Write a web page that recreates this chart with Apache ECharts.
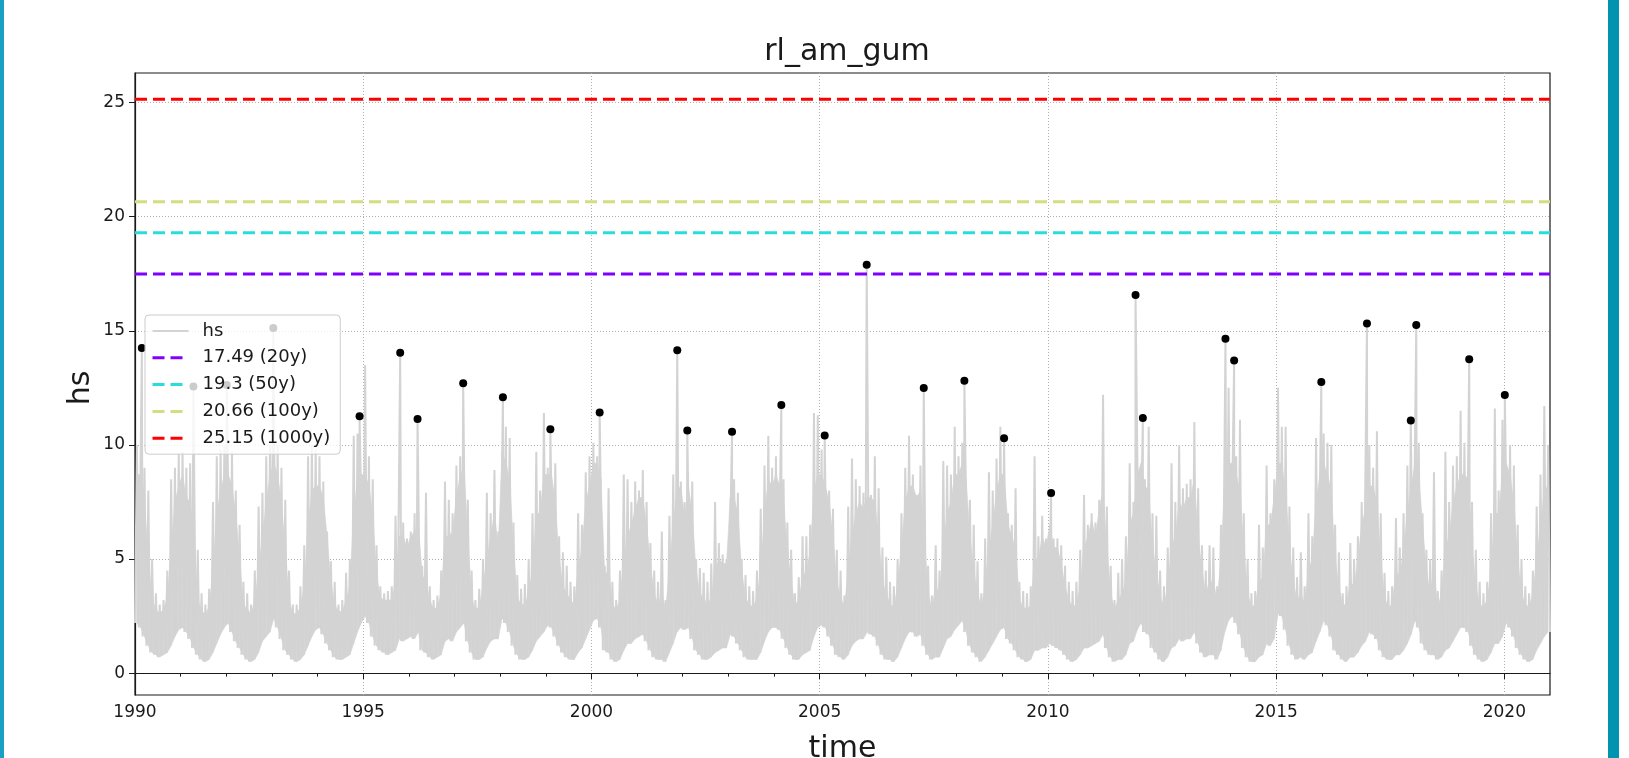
<!DOCTYPE html>
<html>
<head>
<meta charset="utf-8">
<title>rl_am_gum</title>
<script src="https://cdn.jsdelivr.net/npm/echarts@6.0.0/dist/echarts.min.js"></script>
<style>
  html, body { margin: 0; padding: 0; background: #fff; }
  #chart { width: 1629px; height: 758px; }
</style>
</head>
<body>
<div id="chart"></div>
<script>
// years of the hs record, one row per year below (Jan..Dec)
const years = [];
for (let y = 1990; y <= 2020; y++) years.push(y);

// monthly highest spike of hs
const hsMax = [
  [10.0, 14.25, 9.0, 8.0, 5.0, 3.5, 3.0, 3.2, 4.5, 8.5, 9.0, 9.6],
  [9.7, 9.0, 9.2, 12.56, 5.4, 3.5, 3.0, 3.7, 7.5, 9.5, 9.8, 10.0],
  [12.63, 9.7, 8.0, 6.5, 4.0, 3.5, 3.0, 4.5, 7.3, 7.9, 9.5, 10.0],
  [15.12, 10.0, 9.0, 7.6, 4.5, 3.0, 3.0, 3.8, 5.6, 9.5, 10.0, 9.8],
  [9.5, 8.4, 6.2, 4.9, 4.0, 3.0, 3.2, 4.4, 5.0, 10.4, 10.5, 11.26],
  [13.5, 9.5, 8.5, 5.6, 3.8, 3.5, 3.6, 3.8, 6.9, 14.04, 6.6, 5.9],
  [6.2, 7.0, 11.14, 4.7, 7.9, 3.8, 3.2, 3.4, 4.5, 8.4, 7.6, 7.0],
  [9.1, 9.5, 12.70, 7.6, 4.5, 3.2, 3.7, 5.0, 7.9, 7.0, 8.9, 6.2],
  [12.09, 10.8, 10.3, 6.6, 4.3, 3.7, 3.9, 5.0, 7.0, 9.7, 8.0, 11.4],
  [9.0, 10.69, 9.2, 6.0, 5.3, 4.7, 4.0, 3.8, 7.0, 6.5, 8.8, 9.5],
  [10.1, 9.5, 11.42, 4.7, 8.1, 4.0, 3.2, 4.5, 8.7, 8.5, 7.5, 8.4],
  [8.0, 8.9, 7.5, 5.7, 4.5, 4.0, 6.2, 3.2, 6.9, 8.7, 14.15, 8.4],
  [7.5, 10.63, 8.4, 5.0, 4.6, 4.4, 4.0, 4.8, 7.5, 5.7, 5.2, 5.0],
  [10.58, 8.5, 7.9, 5.0, 4.3, 3.8, 3.6, 4.5, 7.2, 9.1, 10.4, 9.0],
  [9.5, 11.75, 8.5, 6.6, 5.4, 3.5, 4.2, 6.0, 6.0, 6.5, 11.4, 11.3],
  [9.8, 10.41, 8.0, 7.2, 5.4, 4.5, 3.4, 7.3, 9.4, 8.5, 8.2, 7.9],
  [17.9, 7.8, 9.5, 8.1, 5.5, 5.1, 4.0, 3.8, 5.0, 7.0, 9.0, 10.4],
  [8.7, 7.8, 9.1, 12.49, 4.7, 3.4, 5.6, 4.5, 9.3, 9.1, 8.7, 10.8],
  [9.5, 10.1, 12.81, 7.6, 6.5, 4.9, 3.5, 5.9, 8.8, 8.0, 9.4, 10.8],
  [10.29, 7.0, 6.5, 8.1, 4.0, 3.6, 3.5, 3.8, 9.5, 6.0, 6.9, 5.9],
  [7.89, 5.9, 5.9, 5.6, 4.7, 4.0, 3.6, 4.0, 5.4, 7.8, 6.5, 7.0],
  [6.6, 7.6, 12.2, 7.3, 4.7, 3.2, 4.4, 5.0, 6.0, 9.2, 7.5, 16.57],
  [11.18, 8.5, 10.8, 7.0, 6.9, 4.5, 3.8, 5.5, 9.2, 7.5, 10.0, 8.1],
  [8.3, 8.5, 11.0, 8.1, 5.6, 4.5, 5.6, 5.5, 3.8, 6.5, 14.65, 12.5],
  [13.70, 9.5, 11.1, 7.0, 5.0, 3.5, 3.6, 6.5, 5.5, 9.1, 7.0, 8.5],
  [12.5, 10.8, 10.8, 7.3, 5.5, 4.2, 5.3, 3.8, 7.0, 6.0, 10.3, 12.76],
  [10.5, 10.1, 10.0, 6.5, 5.3, 3.5, 3.8, 5.7, 5.0, 6.0, 7.5, 15.32],
  [10.0, 9.0, 10.6, 7.0, 4.4, 3.6, 3.8, 6.8, 5.5, 7.0, 9.1, 11.07],
  [15.26, 10.1, 7.0, 5.4, 5.0, 8.8, 3.6, 4.5, 9.7, 7.5, 9.1, 9.5],
  [11.5, 10.1, 13.76, 7.5, 5.4, 4.0, 3.5, 4.0, 7.0, 11.6, 8.0, 11.1],
  [12.19, 10.0, 9.1, 6.5, 5.0, 3.8, 3.5, 4.5, 7.3, 8.7, 11.7, 10.0]
];

// monthly top of the dense part of hs
const hsTyp = [
  [8.7, 8.7, 7.5, 5.0, 3.2, 2.8, 2.6, 2.8, 3.3, 5.5, 7.5, 8.2],
  [8.7, 7.7, 7.5, 6.0, 3.2, 2.7, 2.6, 2.9, 4.5, 7.0, 8.0, 8.7],
  [8.7, 8.2, 7.0, 5.0, 3.0, 2.8, 2.6, 3.2, 4.5, 6.0, 7.5, 8.7],
  [9.2, 8.7, 7.5, 5.5, 3.2, 2.6, 2.6, 2.9, 3.8, 6.5, 8.0, 8.2],
  [8.2, 7.7, 6.0, 4.0, 3.0, 2.7, 2.7, 3.2, 3.8, 7.0, 8.5, 8.7],
  [8.7, 8.2, 7.0, 4.3, 3.3, 3.2, 3.2, 3.2, 4.0, 6.0, 6.0, 5.5],
  [6.0, 6.2, 6.5, 4.3, 4.0, 3.2, 2.8, 2.9, 3.5, 6.0, 6.0, 6.2],
  [7.7, 8.7, 9.0, 6.0, 3.3, 2.8, 2.9, 3.8, 5.0, 6.0, 7.0, 5.5],
  [9.7, 9.2, 8.5, 5.5, 3.3, 3.0, 3.0, 3.5, 4.5, 7.0, 7.0, 8.7],
  [8.7, 8.7, 7.5, 5.0, 3.8, 3.5, 3.2, 3.0, 4.5, 5.5, 7.5, 8.2],
  [9.2, 9.2, 8.5, 4.3, 4.5, 3.0, 2.8, 3.2, 5.0, 6.0, 6.5, 7.2],
  [7.7, 7.7, 6.5, 4.8, 3.5, 3.0, 3.5, 2.8, 4.5, 6.5, 8.0, 8.2],
  [6.8, 8.2, 7.0, 4.5, 3.5, 3.3, 3.0, 3.3, 4.5, 5.0, 4.8, 4.8],
  [7.7, 7.7, 7.0, 4.5, 3.3, 3.0, 2.9, 3.3, 4.5, 7.0, 8.5, 8.2],
  [8.7, 8.2, 7.5, 5.5, 4.0, 3.0, 3.2, 4.2, 4.5, 5.3, 8.0, 8.7],
  [8.7, 8.2, 7.5, 6.0, 4.0, 3.3, 2.9, 4.5, 6.0, 7.0, 7.5, 7.2],
  [7.7, 7.7, 7.5, 6.0, 4.0, 3.5, 3.0, 2.9, 3.8, 5.5, 7.5, 8.2],
  [8.2, 7.7, 8.0, 6.0, 3.5, 2.8, 3.8, 3.5, 5.5, 7.0, 7.5, 8.7],
  [8.7, 9.2, 8.5, 6.0, 4.5, 3.5, 2.9, 3.8, 5.5, 6.5, 8.0, 8.7],
  [8.7, 6.5, 6.0, 5.5, 3.2, 2.9, 2.8, 3.0, 5.0, 5.0, 6.0, 5.5],
  [6.5, 5.5, 5.5, 4.8, 3.8, 3.2, 2.9, 3.0, 3.8, 5.5, 6.0, 6.7],
  [6.0, 7.2, 8.0, 5.5, 3.5, 2.8, 3.2, 3.5, 4.0, 6.5, 7.0, 8.7],
  [9.2, 8.2, 8.0, 5.5, 4.5, 3.3, 3.0, 3.8, 5.5, 6.0, 7.5, 7.2],
  [7.7, 7.7, 8.5, 6.0, 4.5, 3.5, 4.0, 4.0, 3.2, 5.0, 8.5, 9.2],
  [9.2, 8.7, 8.0, 5.5, 3.5, 2.9, 3.0, 4.0, 4.2, 6.5, 6.5, 7.7],
  [9.2, 9.2, 8.0, 5.5, 4.0, 3.2, 3.5, 3.0, 4.5, 5.0, 7.5, 8.7],
  [9.2, 8.7, 8.0, 5.0, 3.8, 3.0, 3.0, 4.0, 3.8, 5.0, 6.5, 7.2],
  [8.2, 8.2, 7.5, 5.0, 3.3, 2.9, 3.0, 4.5, 4.2, 5.5, 7.0, 8.2],
  [9.2, 8.7, 6.5, 4.5, 3.5, 4.5, 2.9, 3.5, 5.5, 6.0, 7.5, 8.2],
  [8.7, 8.7, 8.5, 5.5, 3.8, 3.0, 2.9, 3.2, 4.5, 7.0, 7.0, 8.7],
  [9.2, 8.7, 7.5, 5.0, 3.5, 3.0, 2.9, 3.5, 5.0, 6.5, 8.0, 8.2]
];

// monthly lowest hs
const hsMin = [
  [2.2, 2.0, 1.6, 1.2, 0.9, 0.8, 0.7, 0.8, 0.9, 1.2, 1.6, 1.9],
  [2.0, 1.8, 1.5, 1.1, 0.8, 0.6, 0.5, 0.6, 0.9, 1.3, 1.7, 2.0],
  [2.2, 1.8, 1.4, 1.1, 0.8, 0.6, 0.5, 0.6, 0.9, 1.4, 1.6, 1.8],
  [2.4, 2.0, 1.5, 1.0, 0.8, 0.6, 0.5, 0.6, 0.8, 1.2, 1.6, 1.9],
  [2.0, 1.7, 1.3, 1.0, 0.7, 0.6, 0.6, 0.7, 0.8, 1.3, 1.8, 2.2],
  [2.5, 2.2, 1.6, 1.2, 1.0, 0.9, 0.8, 0.9, 1.0, 1.5, 1.4, 1.5],
  [1.6, 1.5, 1.8, 1.0, 0.9, 0.7, 0.6, 0.7, 0.8, 1.4, 1.5, 1.4],
  [1.8, 2.0, 2.2, 1.4, 0.9, 0.6, 0.6, 0.7, 1.1, 1.4, 1.5, 1.5],
  [2.4, 2.2, 1.8, 1.2, 0.8, 0.6, 0.6, 0.7, 1.0, 1.4, 1.6, 1.8],
  [2.1, 2.0, 1.6, 1.2, 0.9, 0.7, 0.6, 0.6, 0.9, 1.1, 1.5, 1.9],
  [2.3, 2.4, 2.0, 1.0, 0.9, 0.6, 0.5, 0.6, 1.0, 1.3, 1.3, 1.5],
  [1.6, 1.7, 1.4, 1.0, 0.7, 0.6, 0.6, 0.5, 0.9, 1.3, 1.8, 2.0],
  [1.9, 2.0, 1.5, 1.0, 0.8, 0.6, 0.6, 0.7, 0.9, 1.0, 1.1, 1.1],
  [1.7, 1.6, 1.3, 1.0, 0.7, 0.6, 0.6, 0.6, 0.9, 1.4, 1.8, 2.0],
  [2.0, 1.9, 1.5, 1.1, 0.8, 0.6, 0.6, 0.8, 0.9, 1.0, 1.6, 2.0],
  [2.1, 2.0, 1.6, 1.2, 0.8, 0.7, 0.6, 0.8, 1.2, 1.4, 1.5, 1.5],
  [1.8, 1.7, 1.6, 1.2, 0.8, 0.6, 0.6, 0.5, 0.7, 1.1, 1.5, 1.8],
  [1.8, 1.6, 1.7, 1.2, 0.8, 0.6, 0.7, 0.7, 1.1, 1.5, 1.6, 1.9],
  [2.1, 2.3, 1.8, 1.2, 0.9, 0.7, 0.5, 0.7, 1.0, 1.3, 1.6, 1.9],
  [2.0, 1.5, 1.3, 1.0, 0.7, 0.6, 0.5, 0.6, 1.0, 1.0, 1.1, 1.1],
  [1.3, 1.2, 1.1, 1.0, 0.8, 0.6, 0.5, 0.6, 0.8, 1.1, 1.1, 1.2],
  [1.3, 1.4, 1.7, 1.1, 0.7, 0.5, 0.6, 0.6, 0.8, 1.3, 1.4, 1.9],
  [2.2, 1.8, 1.7, 1.1, 0.9, 0.6, 0.5, 0.7, 1.1, 1.2, 1.5, 1.4],
  [1.5, 1.5, 1.8, 1.3, 0.9, 0.7, 0.8, 0.8, 0.6, 1.0, 1.8, 2.3],
  [2.5, 2.2, 1.7, 1.1, 0.7, 0.5, 0.5, 0.7, 0.8, 1.3, 1.2, 1.5],
  [2.6, 2.5, 1.9, 1.2, 0.8, 0.6, 0.7, 0.6, 0.8, 0.9, 1.4, 1.8],
  [2.3, 2.1, 1.6, 1.0, 0.8, 0.6, 0.5, 0.7, 0.7, 0.9, 1.2, 1.4],
  [1.8, 1.7, 1.5, 1.0, 0.7, 0.6, 0.6, 0.8, 0.8, 1.0, 1.3, 1.7],
  [2.3, 2.0, 1.3, 1.0, 0.8, 0.8, 0.6, 0.7, 1.0, 1.1, 1.4, 1.7],
  [2.0, 2.0, 1.8, 1.2, 0.8, 0.6, 0.5, 0.6, 0.9, 1.3, 1.3, 1.6],
  [2.2, 2.0, 1.6, 1.1, 0.8, 0.6, 0.5, 0.6, 1.0, 1.3, 1.6, 1.8]
];

// annual maxima (black dots): time in decimal years, value
const amTime = [1990.15, 1991.28, 1992.01, 1993.03, 1994.92, 1995.81, 1996.19, 1997.19,
  1998.06, 1999.10, 2000.18, 2001.88, 2002.10, 2003.08, 2004.16, 2005.11, 2006.03,
  2007.28, 2008.17, 2009.04, 2010.07, 2011.92, 2012.08, 2013.89, 2014.08, 2015.99,
  2016.99, 2017.95, 2018.07, 2019.23, 2020.01];
const amValue = [14.25, 12.56, 12.63, 15.12, 11.26, 14.04, 11.14, 12.70,
  12.09, 10.69, 11.42, 14.15, 10.63, 10.58, 11.75, 10.41, 17.90,
  12.49, 12.81, 10.29, 7.89, 16.57, 11.18, 14.65, 13.70, 12.76,
  15.32, 11.07, 15.26, 13.76, 12.19];

// return levels
const rlValues = [17.49, 19.3, 20.66, 25.15];
const rlNames = ['17.49 (20y)', '19.3 (50y)', '20.66 (100y)', '25.15 (1000y)'];
const rlColors = ['#8000ff', '#2adddd', '#d4dd80', '#ff0000'];

const xTicks = [1990, 1995, 2000, 2005, 2010, 2015, 2020];
const yTicks = [0, 5, 10, 15, 20, 25];

// build the hs trace: low at month start, spike inside the month
const hsLine = [];
const hsBand = [];   // [t, typ, min, tNext, typNext, minNext]
const mids = [];
years.forEach((y, yi) => {
  hsMax[yi].forEach((hi, m) => {
    const t0 = y + m / 12;
    let tPeak = t0 + 0.5 / 12;
    let vPeak = hi;
    const k = amTime.findIndex(t => Math.floor((t - 1990) * 12 + 1e-9) === yi * 12 + m);
    if (k >= 0) { tPeak = amTime[k]; vPeak = amValue[k]; }
    hsLine.push([t0, hsMin[yi][m]], [tPeak, vPeak]);
    mids.push([t0 + 0.5 / 12, hsTyp[yi][m], hsMin[yi][m]]);
  });
});
hsLine.push([2021, hsMin[hsMin.length - 1][11]]);
for (let i = 0; i < mids.length - 1; i++) {
  hsBand.push([mids[i][0], mids[i][1], mids[i][2], mids[i + 1][0], mids[i + 1][1], mids[i + 1][2]]);
}

const FONT = 'DejaVu Sans';
const GRAY = '#d3d3d3';
const INK = '#1a1a1a';
const chart = echarts.init(document.getElementById('chart'));

const series = [
  {
    name: 'hsBand', type: 'custom', silent: true, z: 1,
    data: hsBand,
    encode: { x: [0, 3], y: [1, 2, 4, 5] },
    renderItem: (params, api) => {
      const a = api.coord([api.value(0), api.value(1)]);
      const b = api.coord([api.value(3), api.value(4)]);
      const c = api.coord([api.value(3), api.value(5)]);
      const d = api.coord([api.value(0), api.value(2)]);
      return {
        type: 'polygon',
        shape: { points: [a, b, c, d] },
        style: { fill: GRAY, stroke: GRAY, lineWidth: 0.6 }
      };
    }
  },
  {
    name: 'hs', type: 'line', data: hsLine, symbol: 'none', silent: true,
    lineStyle: { color: GRAY, width: 2 }, z: 2
  }
];
rlValues.forEach((v, i) => {
  series.push({
    name: rlNames[i], type: 'line', symbol: 'none', silent: true,
    data: [[1990, v], [2021, v]],
    lineStyle: { color: rlColors[i], width: 3, type: [12, 6] }, z: 3
  });
});
series.push({
  name: 'am', type: 'scatter', data: amTime.map((t, i) => [t, amValue[i]]),
  symbolSize: 8, itemStyle: { color: '#000', opacity: 1 }, silent: true, z: 3
});

chart.setOption({
  animation: false,
  backgroundColor: '#fff',
  title: {
    text: 'rl_am_gum', left: 842, top: 32, textAlign: 'center',
    textStyle: { fontFamily: FONT, fontSize: 30, fontWeight: 'normal', color: INK }
  },
  grid: {
    left: 135, right: 79, top: 73, bottom: 63,
    outerBoundsMode: 'none', containLabel: false,
    show: true, borderColor: INK, borderWidth: 1.2, backgroundColor: 'transparent'
  },
  legend: {
    orient: 'vertical', left: 145, top: 315,
    padding: [6, 10, 6, 6],
    itemWidth: 36, itemHeight: 14, itemGap: 6.8,
    backgroundColor: 'rgba(255,255,255,0.8)',
    borderColor: '#cccccc', borderWidth: 1, borderRadius: 4,
    itemStyle: { opacity: 0 },
    textStyle: { fontFamily: FONT, fontSize: 18, color: INK, lineHeight: 20, padding: [0, 0, 0, 9] },
    data: [{ name: 'hs', lineStyle: { width: 2 } }].concat(rlNames.map(n => ({ name: n, lineStyle: { width: 3 } })))
  },
  xAxis: {
    type: 'value', min: 1990, max: 2021, interval: 5,
    name: 'time', nameLocation: 'middle', nameGap: 39, nameMoveOverlap: false,
    nameTextStyle: { fontFamily: FONT, fontSize: 30, color: INK },
    axisLine: { show: true, lineStyle: { color: INK, width: 1.2 } },
    axisTick: { show: true, inside: false, length: 6, customValues: xTicks, lineStyle: { color: INK } },
    minorTick: { show: true, splitNumber: 5, length: 3.5, lineStyle: { color: INK } },
    axisLabel: {
      customValues: xTicks, margin: 9, fontFamily: FONT, fontSize: 17, color: INK,
      formatter: v => String(Math.round(v))
    },
    splitLine: { show: true, lineStyle: { color: '#b0b0b0', width: 1, type: [1, 2] } }
  },
  yAxis: {
    type: 'value', min: -0.96, max: 26.3, splitNumber: 5,
    axisLine: { show: true, lineStyle: { color: INK, width: 1.2 } },
    axisTick: { show: true, inside: false, length: 6, customValues: yTicks, lineStyle: { color: INK } },
    axisLabel: {
      customValues: yTicks, margin: 10, fontFamily: FONT, fontSize: 17, color: INK
    },
    splitLine: { show: true, lineStyle: { color: '#b0b0b0', width: 1, type: [1, 2] } }
  },
  graphic: [
    { type: 'rect', left: 0, top: 0, shape: { width: 4, height: 758 }, style: { fill: '#1aa0c0' }, silent: true },
    { type: 'rect', left: 1608, top: 0, shape: { width: 11, height: 758 }, style: { fill: '#0094b0' }, silent: true },
    {
      type: 'text', x: 81, y: 388, rotation: Math.PI / 2, silent: true,
      style: { text: 'hs', fill: INK, font: '30px "DejaVu Sans"', align: 'center', verticalAlign: 'middle' }
    }
  ],
  series: series
});
</script>
</body>
</html>
